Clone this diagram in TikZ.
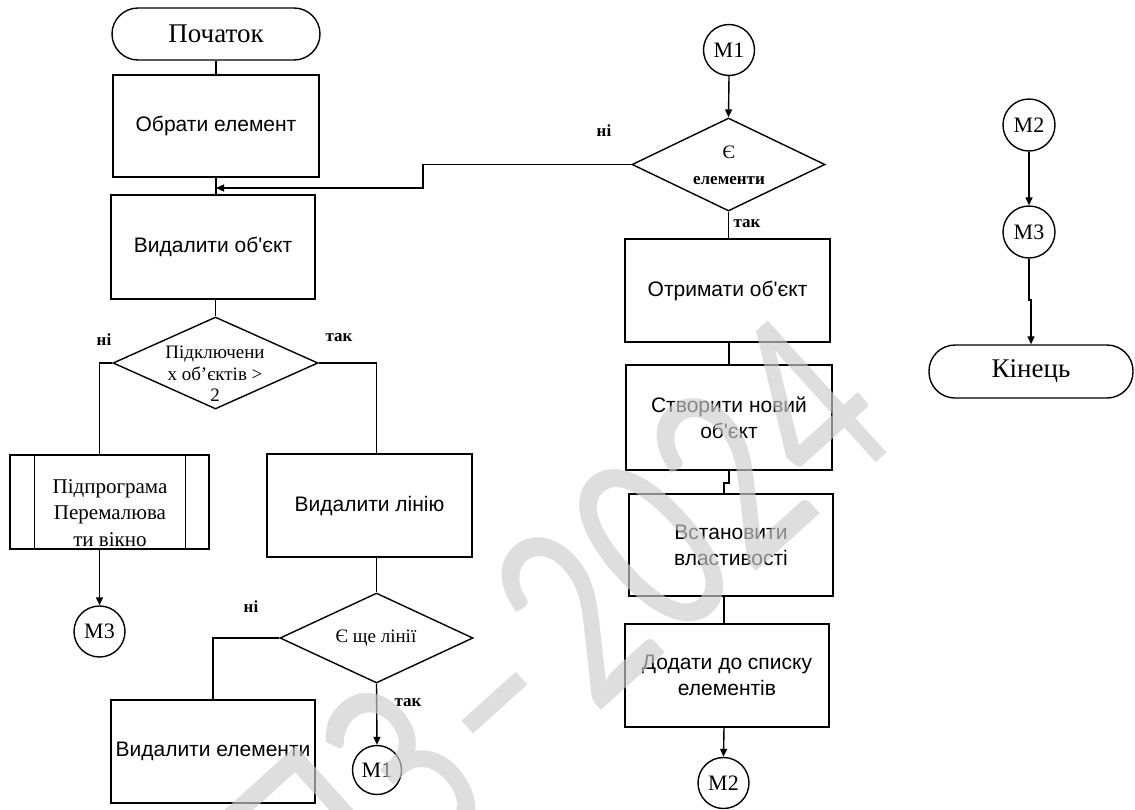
\documentclass[tikz,border=0pt]{standalone}
\usepackage{fontspec}
\setmainfont{Liberation Serif}
\newfontfamily\boxfont{Liberation Sans}
\newfontfamily\wmfont[WordSpace=0.3]{Carlito}
\usetikzlibrary{shapes.geometric,arrows.meta}
\definecolor{wmgray}{RGB}{205,205,205}

\begin{document}
\begin{tikzpicture}[x=1pt,y=-1pt,line width=1.4pt,
  >={Triangle[length=8pt,width=7pt]},
  terminal/.style={draw,rounded corners=26pt,minimum height=52pt,inner sep=0pt,
    font=\fontsize{27}{30}\selectfont},
  proc/.style={draw,minimum width=205pt,minimum height=103pt,inner sep=0pt,
    align=center,font=\boxfont\fontsize{21}{26}\selectfont},
  decision/.style={draw,diamond,inner sep=0pt},
  dtext/.style={align=center,inner sep=0pt,font=\fontsize{19}{21.5}\selectfont},
  subprog/.style={draw,minimum width=199pt,minimum height=94pt,inner sep=0pt},
  conn/.style={draw,circle,minimum size=51pt,inner sep=0pt,
    font=\fontsize{22}{24}\selectfont},
  lbl/.style={inner sep=0pt,font=\bfseries\fontsize{17}{19}\selectfont},
  flow/.style={->}]
\useasboundingbox (0,0) rectangle (1135,809);

% ---------- left column ----------
\node[terminal,minimum width=208pt] (start) at (216,34) {Початок};
\node[proc,minimum width=206pt,minimum height=102pt] (b1) at (216,126) {Обрати елемент};
\node[proc,minimum width=204pt,minimum height=104pt] (b2) at (213,247) {Видалити об'єкт};

\node[decision,minimum width=205pt,minimum height=92pt] (d1) at (215.5,363) {};
\node[dtext] (d1t) at (215,374) {Підключени\\х об'єктів >\\2};
\node[lbl] (d1no) at (104,340) {ні};
\node[lbl] (d1yes) at (339,338) {так};

\node[subprog] (sub) at (109.5,502) {};
\draw ([xshift=25pt]sub.north west) -- ([xshift=25pt]sub.south west);
\draw ([xshift=-24pt]sub.north east) -- ([xshift=-24pt]sub.south east);
\node[align=center,inner sep=0pt,font=\fontsize{21}{26.5}\selectfont] (subt) at (110,513)
  {Підпрограма\\Перемалюва\\ти вікно};
\node[conn] (M3a) at (99.5,631.5) {М3};

\node[proc] (b3) at (369.5,505.5) {Видалити лінію};
\node[decision,minimum width=193pt,minimum height=90pt] (d2) at (376.5,638) {};
\node[dtext] (d2t) at (376,638) {Є ще лінії};
\node[lbl] (d2no) at (251,607) {ні};
\node[lbl] (d2yes) at (408,703) {так};
\node[proc,minimum width=204pt] (b4) at (213,751.5) {Видалити елементи};
\node[conn,minimum size=49pt] (M1b) at (377,770) {М1};

% ---------- middle column ----------
\node[conn] (M1a) at (729,50) {М1};
\node[decision,minimum width=193pt,minimum height=93pt] (d3) at (728.5,164.5) {};
\node[align=center,inner sep=0pt,font=\fontsize{19}{26}\selectfont] (d3t) at (729,165)
  {Є\\\textbf{\fontsize{17}{26}\selectfont елементи}};
\node[lbl] (d3no) at (604,131) {ні};
\node[lbl] (d3yes) at (747,224) {так};
\node[proc] (b5) at (727.5,290.5) {Отримати об'єкт};
\node[proc,minimum width=206pt,minimum height=105pt] (b6) at (729,417.5) {Створити новий\\об'єкт};
\node[proc,minimum width=204pt,minimum height=102pt] (b7) at (731,545) {Встановити\\властивості};
\node[proc,minimum width=204pt] (b8) at (727,675.5) {Додати до списку\\елементів};
\node[conn] (M2b) at (723.5,783) {М2};

% ---------- right column ----------
\node[conn,minimum size=52pt] (M2r) at (1029,125) {М2};
\node[conn,minimum size=52pt] (M3r) at (1029,232) {М3};
\node[terminal,minimum width=204pt,minimum height=53pt] (end) at (1031,371.5) {Кінець};

% ---------- connectors ----------
\coordinate (jog) at (423,188);
\coordinate (j2) at (724,483);
\coordinate (j3) at (1031,300);

\draw (start) -- (b1);
\draw (b1.south) -- (b1.south |- b2.north);
\draw (d1.north |- b2.south) -- (d1.north);
\draw (d1.west) -| (sub.north -| M3a.north);
\draw[flow] (sub.south -| M3a.north) -- (M3a.north);
\draw (d1.east) -| (b3.north -| d2.north);
\draw (b3.south -| d2.north) -- (d2.north);
\draw (d2.west) -| (b4.north);
\draw[flow] (d2.south) -- (M1b.north);

\draw[flow] (M1a.south) -- (d3.north);
\draw[flow] (d3.west) -| (jog) -- (b1.south |- jog);
\draw (d3.south) -- (d3.south |- b5.north);
\draw (b5.south -| b6.north) -- (b6.north);
\draw (b6.south) |- (j2) -- (j2 |- b7.north);
\draw (b7.south -| j2) -- (b8.north -| j2);
\draw[flow] (b8.south -| j2) -- (M2b.north);

\draw[flow] (M2r.south) -- (M3r.north);
\draw[flow] (M3r.south) |- (j3) -- (end.north);

% ---------- watermark ----------
\node[rotate=42,yscale=1.35,anchor=base west,text=wmgray,opacity=0.66,inner sep=0pt,
  font=\wmfont\fontsize{205}{205}\selectfont] (wm) at (331,954) {ПЗ – 2024};
\end{tikzpicture}
\end{document}
